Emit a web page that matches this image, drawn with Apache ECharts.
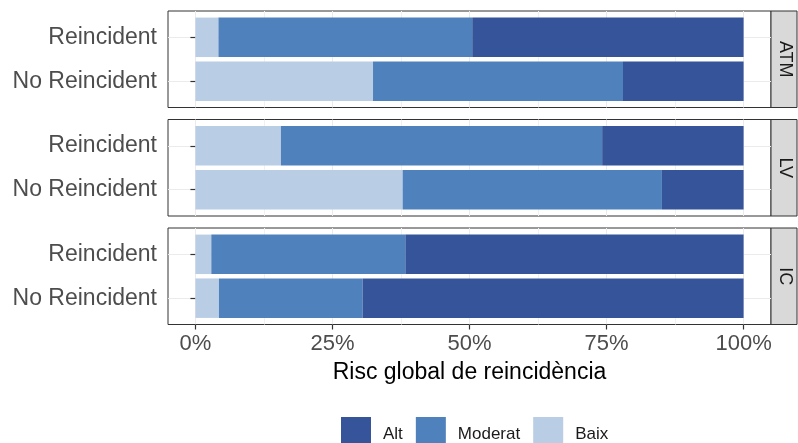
<!DOCTYPE html>
<html>
<head>
<meta charset="utf-8">
<script src="https://cdn.jsdelivr.net/npm/echarts@6/dist/echarts.min.js"></script>
<style>
html,body{margin:0;padding:0;background:#fff;}
#c{width:798px;height:443px;}
</style>
</head>
<body>
<div id="c"></div>
<script>
// ---- data ----
const categories = ['Reincident', 'No Reincident'];
const facets = ['ATM', 'LV', 'IC'];
// per facet: [Reincident, No Reincident] (percent)
const baixValues    = [[4.2, 32.4], [15.6, 37.8], [2.9, 4.3]];
const moderatValues = [[46.3, 45.6], [58.6, 47.3], [35.4, 26.2]];
const altValues     = [[49.5, 22.0], [25.8, 14.9], [61.7, 69.5]];
const seriesNames = ['Baix', 'Moderat', 'Alt'];
const legendOrder = ['Alt', 'Moderat', 'Baix'];
const xTicks = [0, 25, 50, 75, 100];
const xMinorTicks = [12.5, 37.5, 62.5, 87.5];
const xTitle = 'Risc global de reincidència';

// ---- layout ----
const FONT = "'Liberation Sans', Arial, Helvetica, sans-serif";
const colors = {Baix: '#B9CDE5', Moderat: '#4F81BD', Alt: '#35549A'};
const panelLeft = 168, panelRight = 771, stripW = 26;
const panelTops = [11, 119.5, 228];
const panelH = 96.5;
const unit = panelH / 2.2;
const W = 798;

const grids = [], xAxes = [], yAxes = [], series = [], graphics = [];

// Grid A (bars) : indices 0..2
facets.forEach((f, i) => {
  grids.push({left: panelLeft, right: W - panelRight, top: panelTops[i] + 0.6 * unit, height: unit, containLabel: false});
  xAxes.push({type: 'value', gridIndex: i, min: -5, max: 105, show: false});
  yAxes.push({
    type: 'category', gridIndex: i, data: categories, inverse: true, boundaryGap: false,
    axisLine: {show: false},
    axisTick: {show: true, length: 5, lineStyle: {color: '#333333', width: 1.2}},
    axisLabel: {color: '#4D4D4D', fontSize: 23, fontFamily: FONT, margin: 11, padding: [2, 0, 0, 0]},
    splitLine: {show: true, lineStyle: {color: '#EBEBEB', width: 1}}
  });
});
// Grid B (panel frame + vertical grid) : indices 3..5
facets.forEach((f, i) => {
  const last = i === facets.length - 1;
  grids.push({left: panelLeft, right: W - panelRight, top: panelTops[i], height: panelH,
    show: true, borderColor: '#333333', borderWidth: 1, backgroundColor: 'transparent'});
  xAxes.push({
    type: 'value', gridIndex: 3 + i, min: -5, max: 105, position: 'bottom',
    axisLine: {show: false},
    axisTick: {show: last, length: 5, customValues: xTicks, lineStyle: {color: '#333333', width: 1.2}},
    axisLabel: {show: last, customValues: xTicks, formatter: v => v + '%', color: '#4D4D4D', fontSize: 22, fontFamily: FONT, margin: 8},
    splitLine: {show: true, lineStyle: {color: '#EBEBEB', width: 1}},
    name: last ? xTitle : '', nameLocation: 'middle', nameGap: 37,
    nameTextStyle: {color: '#000000', fontSize: 23, fontFamily: FONT}
  });
  yAxes.push({type: 'value', gridIndex: 3 + i, min: 0, max: 1, show: false, splitLine: {show: false}});
});
// minor vertical grid : x indices 6..8
facets.forEach((f, i) => {
  xAxes.push({
    type: 'value', gridIndex: 3 + i, min: -5, max: 105, position: 'top',
    axisLine: {show: false},
    axisTick: {show: false, customValues: xMinorTicks},
    axisLabel: {show: false, customValues: xMinorTicks},
    splitLine: {show: true, lineStyle: {color: '#F1F1F1', width: 1}}
  });
});

const valueSets = {Baix: baixValues, Moderat: moderatValues, Alt: altValues};
facets.forEach((f, i) => {
  seriesNames.forEach(name => {
    series.push({
      name: name, type: 'bar', stack: 'facet' + i,
      xAxisIndex: i, yAxisIndex: i,
      data: valueSets[name][i],
      barWidth: 0.9 * unit, clip: false,
      itemStyle: {color: colors[name]},
      emphasis: {disabled: true},
      silent: true, animation: false
    });
  });
  // facet strip
  graphics.push({
    type: 'rect', shape: {x: panelRight, y: panelTops[i], width: stripW, height: panelH},
    style: {fill: '#D9D9D9', stroke: '#333333', lineWidth: 1}, silent: true
  });
  graphics.push({
    type: 'text', x: panelRight + stripW / 2 + 1, y: panelTops[i] + panelH / 2, rotation: -Math.PI / 2,
    style: {text: f, fill: '#1A1A1A', fontSize: 18, fontFamily: FONT, align: 'center', verticalAlign: 'middle'},
    silent: true
  });
});

const chart = echarts.init(document.getElementById('c'), null, {renderer: 'canvas'});
chart.setOption({
  animation: false,
  backgroundColor: '#ffffff',
  grid: grids, xAxis: xAxes, yAxis: yAxes, series: series,
  legend: {
    data: legendOrder.map(n => ({name: n, icon: 'rect', itemStyle: {color: colors[n]}})),
    left: 341, top: 417, padding: 0, itemWidth: 30, itemHeight: 34, itemGap: 13,
    textStyle: {fontSize: 17, color: '#1A1A1A', fontFamily: FONT, padding: [0, 0, 0, 7]},
    selectedMode: false
  },
  graphic: graphics
});
</script>
</body>
</html>
